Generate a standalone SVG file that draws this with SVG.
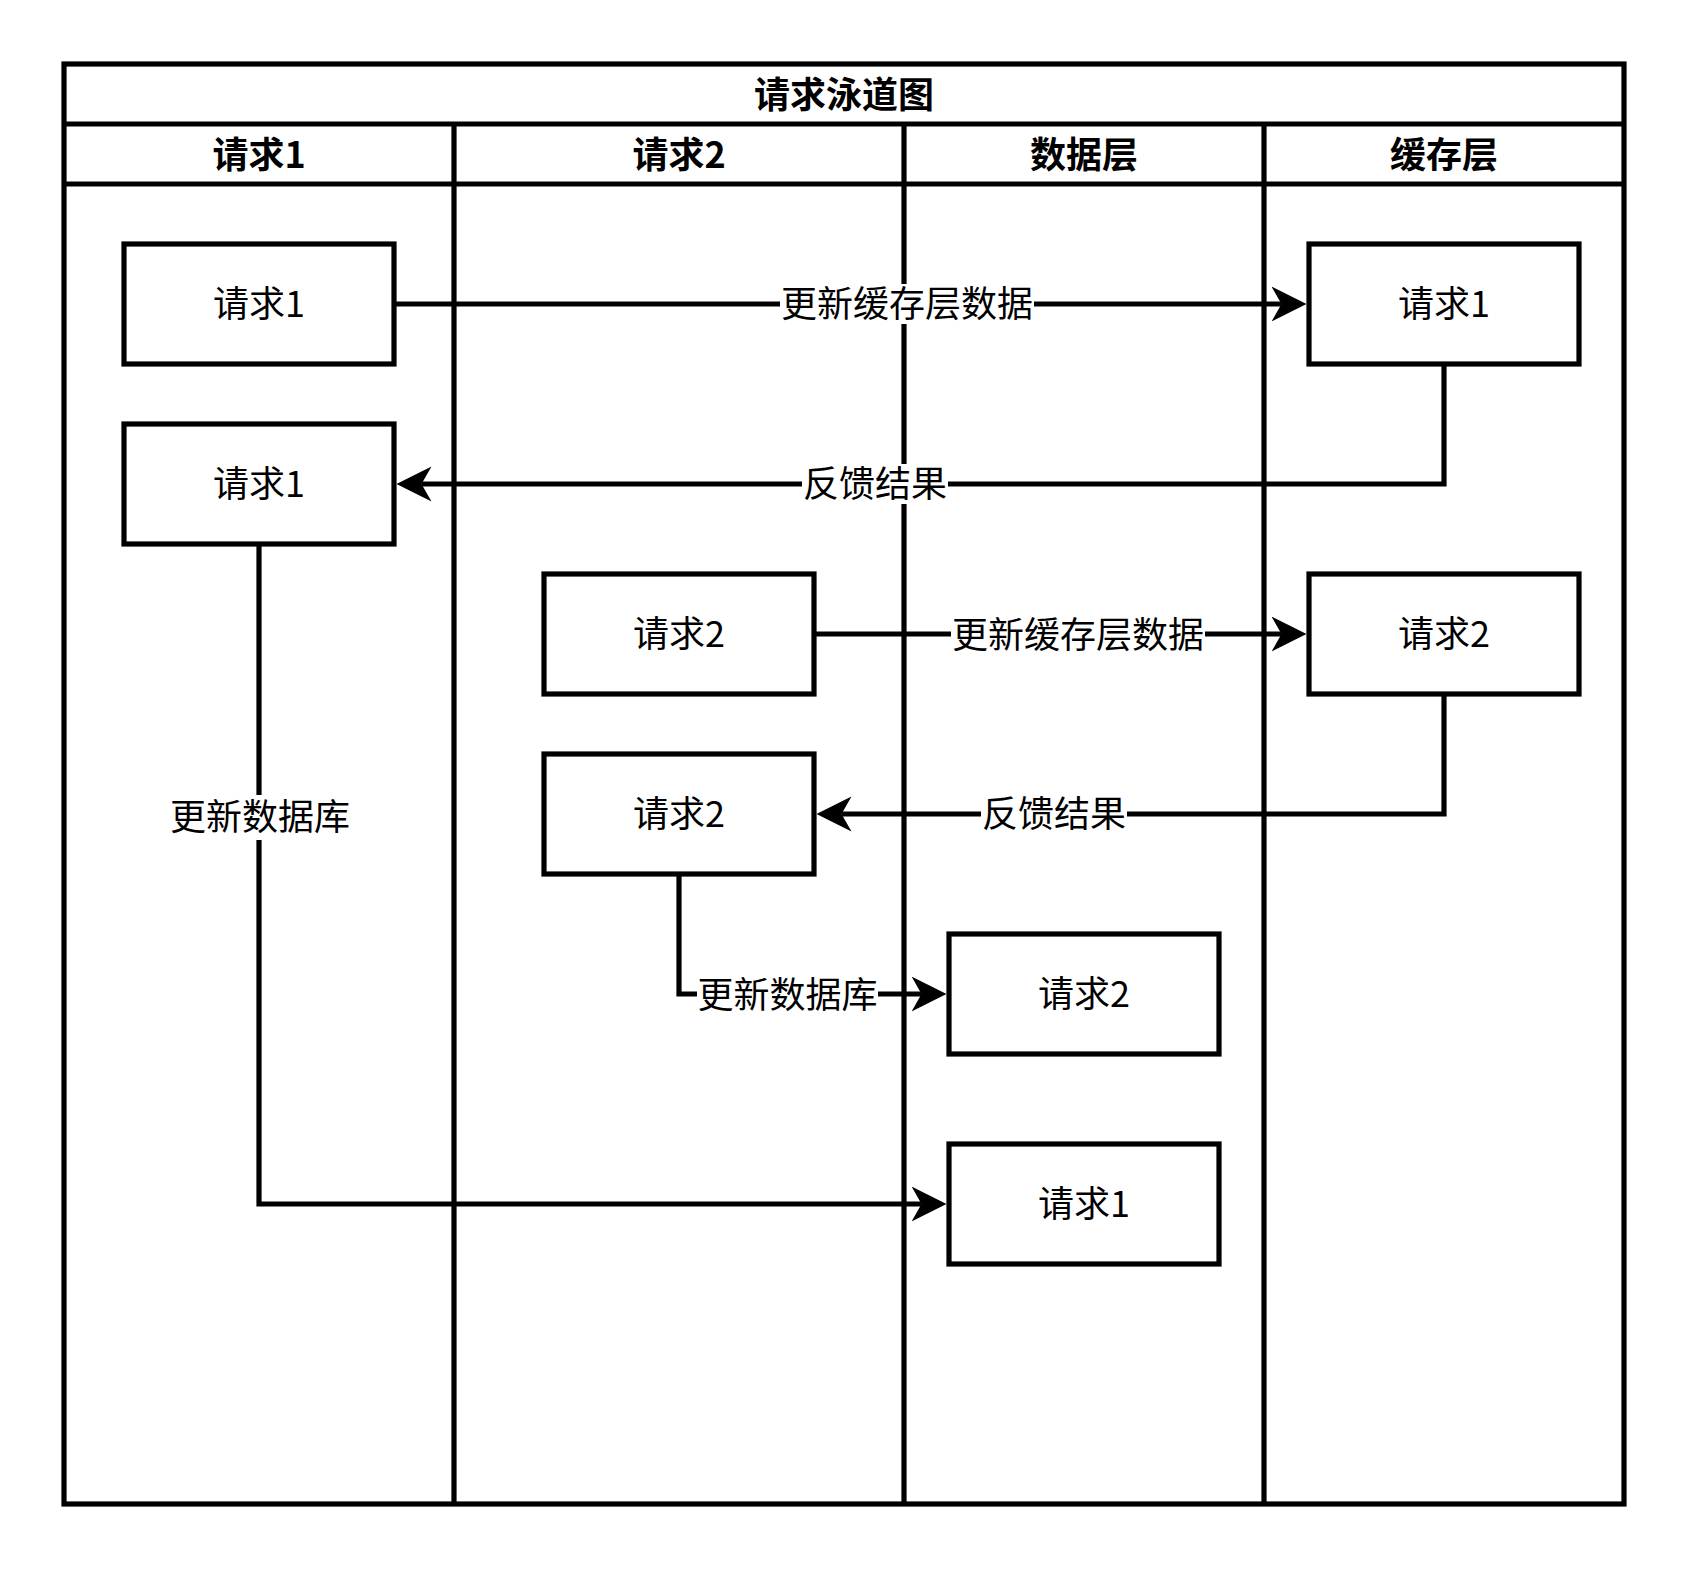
<svg xmlns="http://www.w3.org/2000/svg" width="1689" height="1569" viewBox="0 0 1689 1569">
<style>
  .frame { fill: #ffffff; stroke: #000000; stroke-width: 5.2; }
  .line { fill: none; stroke: #000000; stroke-width: 5.2; }
  .box { fill: #ffffff; stroke: #000000; stroke-width: 5.2; }
  .txt { font-family: "Noto Sans CJK SC", "Noto Sans", sans-serif; font-size: 36px; fill: #000000; text-anchor: middle; dominant-baseline: central; }
  .bold { font-weight: bold; }
  .conn { fill: none; stroke: #000000; stroke-width: 5.2; }
  .lblbg { fill: #ffffff; stroke: none; }
</style>
<defs>
  <marker id="arrow" markerUnits="userSpaceOnUse" markerWidth="36" markerHeight="36" viewBox="0 0 36 36" refX="10" refY="17.5" orient="auto">
    <path d="M0,0 L35,17.5 L0,35 L10,17.5 Z" fill="#000000"/>
  </marker>
</defs>
<rect x="0" y="0" width="1689" height="1569" fill="#ffffff"/>

<g id="pool">
  <rect class="frame" x="64" y="64" width="1560" height="1440"/>
  <line class="line" x1="64" y1="124" x2="1624" y2="124"/>
  <text class="txt bold" x="844" y="92">请求泳道图</text>
</g>

<g id="lane-req1">
  <line class="line" x1="64" y1="184" x2="454" y2="184"/>
  <text class="txt bold" x="259" y="152">请求1</text>
</g>
<g id="lane-req2">
  <line class="line" x1="454" y1="124" x2="454" y2="1504"/>
  <line class="line" x1="454" y1="184" x2="904" y2="184"/>
  <text class="txt bold" x="679" y="152">请求2</text>
</g>
<g id="lane-data">
  <line class="line" x1="904" y1="124" x2="904" y2="1504"/>
  <line class="line" x1="904" y1="184" x2="1264" y2="184"/>
  <text class="txt bold" x="1084" y="152">数据层</text>
</g>
<g id="lane-cache">
  <line class="line" x1="1264" y1="124" x2="1264" y2="1504"/>
  <line class="line" x1="1264" y1="184" x2="1624" y2="184"/>
  <text class="txt bold" x="1444" y="152">缓存层</text>
</g>

<g id="connectors">
  <g id="e1">
    <path class="conn" d="M394,304 L1281.5,304" marker-end="url(#arrow)"/>
    <rect class="lblbg" x="780" y="284" width="254" height="40"/>
    <text class="txt" x="907" y="301">更新缓存层数据</text>
  </g>
  <g id="e2">
    <path class="conn" d="M1444,364 L1444,484 L421.5,484" marker-end="url(#arrow)"/>
    <rect class="lblbg" x="802" y="464" width="146" height="40"/>
    <text class="txt" x="875" y="481">反馈结果</text>
  </g>
  <g id="e3">
    <path class="conn" d="M814,634 L1281.5,634" marker-end="url(#arrow)"/>
    <rect class="lblbg" x="951" y="614" width="254" height="40"/>
    <text class="txt" x="1078" y="632">更新缓存层数据</text>
  </g>
  <g id="e4">
    <path class="conn" d="M1444,694 L1444,814 L841.5,814" marker-end="url(#arrow)"/>
    <rect class="lblbg" x="981" y="794" width="146" height="40"/>
    <text class="txt" x="1054" y="811">反馈结果</text>
  </g>
  <g id="e5">
    <path class="conn" d="M679,874 L679,994 L921.5,994" marker-end="url(#arrow)"/>
    <rect class="lblbg" x="697" y="974" width="181" height="40"/>
    <text class="txt" x="787.5" y="992">更新数据库</text>
  </g>
  <g id="e6">
    <path class="conn" d="M259,544 L259,1204 L921.5,1204" marker-end="url(#arrow)"/>
    <rect class="lblbg" x="169" y="795" width="182" height="45"/>
    <text class="txt" x="260" y="814">更新数据库</text>
  </g>
</g>

<g id="n-req1-a">
  <rect class="box" x="124" y="244" width="270" height="120"/>
  <text class="txt" x="259" y="301">请求1</text>
</g>
<g id="n-req1-b">
  <rect class="box" x="124" y="424" width="270" height="120"/>
  <text class="txt" x="259" y="481">请求1</text>
</g>
<g id="n-cache-req1">
  <rect class="box" x="1309" y="244" width="270" height="120"/>
  <text class="txt" x="1444" y="301">请求1</text>
</g>
<g id="n-req2-a">
  <rect class="box" x="544" y="574" width="270" height="120"/>
  <text class="txt" x="679" y="631">请求2</text>
</g>
<g id="n-cache-req2">
  <rect class="box" x="1309" y="574" width="270" height="120"/>
  <text class="txt" x="1444" y="631">请求2</text>
</g>
<g id="n-req2-b">
  <rect class="box" x="544" y="754" width="270" height="120"/>
  <text class="txt" x="679" y="811">请求2</text>
</g>
<g id="n-data-req2">
  <rect class="box" x="949" y="934" width="270" height="120"/>
  <text class="txt" x="1084" y="991">请求2</text>
</g>
<g id="n-data-req1">
  <rect class="box" x="949" y="1144" width="270" height="120"/>
  <text class="txt" x="1084" y="1201">请求1</text>
</g>
</svg>
